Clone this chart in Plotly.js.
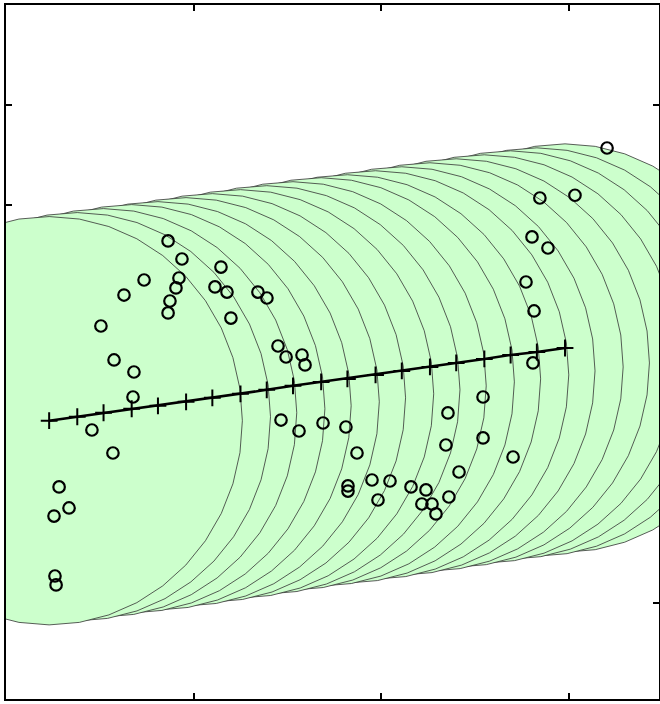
<!DOCTYPE html>
<html>
<head>
<meta charset="utf-8">
<script src="https://cdn.plot.ly/plotly-3.0.1.min.js"></script>
<style>
  html, body { margin: 0; padding: 0; background: #fff; }
  #chart { width: 660px; height: 704px; }
</style>
</head>
<body>
<div id="chart"></div>
<script>
// Centre line (knots marked with +)
const knotX = [0.23, 0.38, 0.52, 0.67, 0.81, 0.96, 1.10, 1.25, 1.39, 1.53,
               1.68, 1.82, 1.97, 2.11, 2.26, 2.40, 2.55, 2.69, 2.83, 2.98];
const knotY = [1.83, 1.87, 1.91, 1.95, 1.98, 2.02, 2.06, 2.10, 2.14, 2.18,
               2.22, 2.25, 2.29, 2.33, 2.37, 2.41, 2.45, 2.49, 2.52, 2.56];

// Observed samples (open circles)
const sampleX = [0.864, 0.938, 0.922, 0.906, 0.874, 0.864, 0.736, 0.629, 0.506, 0.576,
                 0.682, 0.677, 0.458, 0.570, 0.283, 0.336, 0.256, 0.261, 0.267, 1.146,
                 1.114, 1.178, 1.343, 1.391, 1.199, 1.450, 1.493, 1.578, 1.594, 1.466,
                 1.562, 1.690, 1.812, 1.871, 1.823, 1.823, 1.951, 1.983, 2.047, 2.159,
                 2.239, 2.217, 2.271, 2.292, 2.361, 2.415, 2.345, 2.356, 2.543, 2.543,
                 2.703, 2.809, 2.815, 2.772, 2.804, 2.889, 2.846, 3.033, 3.204];
const sampleY = [3.635, 3.454, 3.263, 3.163, 3.032, 2.912, 3.243, 3.092, 2.781, 2.440,
                 2.319, 2.068, 1.737, 1.506, 1.165, 0.954, 0.873, 0.271, 0.181, 3.373,
                 3.173, 3.122, 3.122, 3.062, 2.861, 2.580, 2.470, 2.490, 2.390, 1.837,
                 1.727, 1.807, 1.767, 1.506, 1.175, 1.124, 1.235, 1.034, 1.225, 1.165,
                 1.135, 0.994, 0.994, 0.894, 1.064, 1.315, 1.586, 1.908, 1.657, 2.068,
                 1.466, 2.410, 2.932, 3.223, 3.675, 3.564, 4.066, 4.094, 4.568];

// Ellipse drawn round every knot: half-widths and number of points on the outline
const RX = 1.03, RY = 2.05, NPTS = 41;

function bandPolygon(cx, cy) {
  const xs = [], ys = [];
  for (let k = 0; k < NPTS; k++) {
    const a = 2 * Math.PI * k / (NPTS - 1);
    xs.push(cx + RX * Math.cos(a));
    ys.push(cy + RY * Math.sin(a));
  }
  return { xs, ys };
}

const traces = [];
// Right-most ellipse first so each one to its left sits on top
for (let i = knotX.length - 1; i >= 0; i--) {
  const p = bandPolygon(knotX[i], knotY[i]);
  traces.push({
    x: p.xs, y: p.ys,
    type: 'scatter', mode: 'lines',
    fill: 'toself', fillcolor: '#ccffcc',
    line: { color: '#333', width: 0.8 },
    hoverinfo: 'skip'
  });
}

traces.push({
  x: knotX, y: knotY,
  type: 'scatter', mode: 'lines+markers',
  line: { color: '#000', width: 2.5 },
  marker: { symbol: 'cross-thin', size: 12, line: { color: '#000', width: 2 } }
});

traces.push({
  x: sampleX, y: sampleY,
  type: 'scatter', mode: 'markers',
  marker: { symbol: 'circle-open', size: 11.5, color: '#000', line: { color: '#000', width: 2.2 } }
});

const axisCommon = {
  showline: true, mirror: 'ticks', linecolor: '#000', linewidth: 2,
  ticks: 'inside', ticklen: 6, tickwidth: 2, tickcolor: '#000',
  showticklabels: false, showgrid: false, zeroline: false,
  tick0: 0, dtick: 1, layer: 'below traces', fixedrange: true
};

const layout = {
  width: 660, height: 704,
  margin: { l: 6, r: 1, t: 5, b: 5 },
  paper_bgcolor: '#fff', plot_bgcolor: '#fff',
  showlegend: false, hovermode: false,
  xaxis: Object.assign({ range: [0, 3.481] }, axisCommon),
  yaxis: Object.assign({ range: [-0.964, 6.004] }, axisCommon)
};

Plotly.newPlot('chart', traces, layout, { displayModeBar: false, staticPlot: true });
</script>
</body>
</html>
